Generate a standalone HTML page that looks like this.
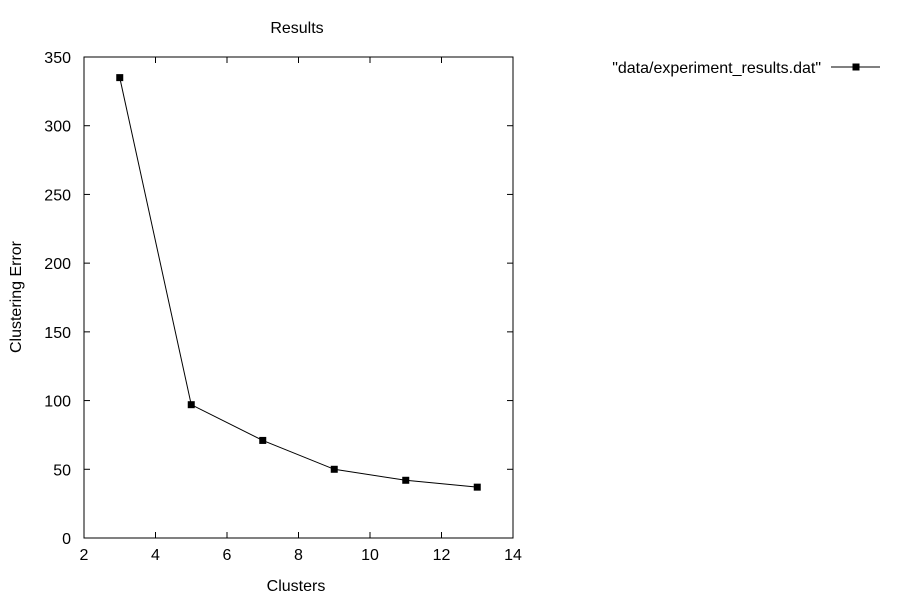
<!DOCTYPE html>
<html><head><meta charset="utf-8"><style>body{margin:0;background:#fff}svg{display:block;font-family:"Liberation Sans",sans-serif}</style></head>
<body>
<svg id="chart" width="900" height="600" xmlns="http://www.w3.org/2000/svg"></svg>
<script>
const xValues=[3,5,7,9,11,13];
const yValues=[335,97,71,50,42,37];
const xTicks=[2,4,6,8,10,12,14];
const yTicks=[0,50,100,150,200,250,300,350];
const L=84,R=513,T=57,B=538;
const sx=v=>L+(v-2)/(14-2)*(R-L);
const sy=v=>B-(v/350)*(B-T);
const svg=document.getElementById('chart');
const NS='http://www.w3.org/2000/svg';
function mk(tag,attrs,parent){const e=document.createElementNS(NS,tag);for(const k in attrs)e.setAttribute(k,attrs[k]);(parent||svg).appendChild(e);return e;}
const frame=mk('rect',{x:L,y:T,width:R-L,height:B-T,fill:'none',stroke:'#000','stroke-width':1});


xTicks.forEach(v=>{const x=sx(v);
 const t1=mk('line',{x1:x,y1:B,x2:x,y2:B-6,stroke:'#000'});
 
 const t2=mk('line',{x1:x,y1:T,x2:x,y2:T+6,stroke:'#000'});
 
 const tx=mk('text',{x:x,y:B+22,'text-anchor':'middle','font-size':16});tx.textContent=v;
 });
yTicks.forEach(v=>{const y=sy(v);
 const t1=mk('line',{x1:L,y1:y,x2:L+6,y2:y,stroke:'#000'});
 
 const t2=mk('line',{x1:R,y1:y,x2:R-6,y2:y,stroke:'#000'});
 
 const tx=mk('text',{x:L-13,y:y+6,'text-anchor':'end','font-size':16});tx.textContent=v;
 });
const pl=mk('polyline',{points:xValues.map((x,i)=>sx(x)+','+sy(yValues[i])).join(' '),fill:'none',stroke:'#000','stroke-width':1});

xValues.forEach((x,i)=>{const m=mk('rect',{x:sx(x)-3.5,y:sy(yValues[i])-3.5,width:7,height:7,fill:'#000'});
 });
const title=mk('text',{x:297,y:33,'text-anchor':'middle','font-size':16});title.textContent='Results';

const xt=mk('text',{x:296,y:591,'text-anchor':'middle','font-size':16});xt.textContent='Clusters';

const yt=mk('text',{x:21,y:297,'text-anchor':'middle','font-size':16,transform:'rotate(-90 21 297)'});yt.textContent='Clustering Error';

const lt=mk('text',{x:821,y:73,'text-anchor':'end','font-size':16});lt.textContent='"data/experiment_results.dat"';

const ll=mk('line',{x1:831,y1:67,x2:880,y2:67,stroke:'#000'});

const lm=mk('rect',{x:852.5,y:63.5,width:7,height:7,fill:'#000'});

</script>
</body></html>
